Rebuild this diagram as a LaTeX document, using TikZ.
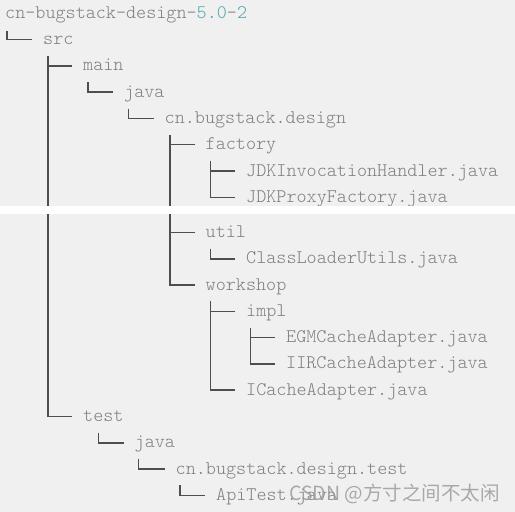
\documentclass[tikz,border=0pt]{standalone}
\usepackage{fontspec}
\usepackage{xcolor}
\usepackage{tikz}
\usetikzlibrary{positioning, calc}
\newfontfamily\treefont{Latin Modern Mono Light}
\newfontfamily\cjkfont{Noto Sans CJK SC}
\definecolor{pagegray}{HTML}{F0F0F0}
\definecolor{textgray}{HTML}{7E7E7E}
\definecolor{linegray}{HTML}{4E4E4E}
\definecolor{numteal}{HTML}{4FA8AC}
\definecolor{markgray}{HTML}{9C9C9C}

\begin{document}
\begin{tikzpicture}[
  x=1pt, y=-1pt,
  file/.style={anchor=base west, inner sep=0pt, text height=10pt,
               text depth=0pt, font=\treefont\fontsize{19.2pt}{20pt}\selectfont,
               text=textgray},
  branch/.style={draw=linegray, line width=1.6pt},
  tee/.style={draw=linegray, line width=1.3pt},
]
  \useasboundingbox (0,0) rectangle (515,512);
  \fill[pagegray] (0,0) rectangle (515,512);

  % tree entries
  \node[file] (root)        at (5,18.3)   {cn-bugstack-design-\textcolor{numteal}{5.0}-\textcolor{numteal}{2}};
  \node[file] (src)         at (43,44.6)  {src};
  \node[file] (main)        at (83,70.9)  {main};
  \node[file] (mainjava)    at (124,97.2) {java};
  \node[file] (designpkg)   at (164.5,123.5) {cn.bugstack.design};
  \node[file] (factory)     at (205.5,149.8) {factory};
  \node[file] (jdkhandler)  at (246,176.1) {JDKInvocationHandler.java};
  \node[file] (jdkproxy)    at (246,202.4) {JDKProxyFactory.java};
  \node[file] (util)        at (205.5,237.4) {util};
  \node[file] (loaderutils) at (246,263.7) {ClassLoaderUtils.java};
  \node[file] (workshop)    at (205.5,290.0) {workshop};
  \node[file] (impl)        at (246,316.3) {impl};
  \node[file] (egm)         at (286,342.6) {EGMCacheAdapter.java};
  \node[file] (iir)         at (286,368.9) {IIRCacheAdapter.java};
  \node[file] (icache)      at (246,395.2) {ICacheAdapter.java};
  \node[file] (test)        at (83,421.5)  {test};
  \node[file] (testjava)    at (134.5,447.8) {java};
  \node[file] (testpkg)     at (175.5,474.1) {cn.bugstack.design.test};
  \node[file] (apitest)     at (216,500.4) {ApiTest.java};

  % connectors
  \draw[branch] ([xshift=-36pt,yshift=9pt]src.west) |- ([xshift=-11pt]src.west);
  \draw[branch] ([xshift=-35pt,yshift=10pt]main.west) |- ([xshift=-11pt]test.west);
  \draw[tee] ([xshift=-35pt]main.west) -- ([xshift=-11pt]main.west);
  \draw[branch] ([xshift=-36pt,yshift=10pt]mainjava.west) |- ([xshift=-11pt]mainjava.west);
  \draw[branch] ([xshift=-36pt,yshift=10pt]designpkg.west) |- ([xshift=-11pt]designpkg.west);
  \draw[branch] ([xshift=-35.5pt,yshift=10pt]factory.west) |- ([xshift=-11pt]workshop.west);
  \draw[tee] ([xshift=-35.5pt]factory.west) -- ([xshift=-11pt]factory.west);
  \draw[tee] ([xshift=-35.5pt]util.west) -- ([xshift=-11pt]util.west);
  \draw[branch] ([xshift=-35.5pt,yshift=10pt]jdkhandler.west) |- ([xshift=-11pt]jdkproxy.west);
  \draw[tee] ([xshift=-35.5pt]jdkhandler.west) -- ([xshift=-11pt]jdkhandler.west);
  \draw[branch] ([xshift=-35.5pt,yshift=10pt]loaderutils.west) |- ([xshift=-11pt]loaderutils.west);
  \draw[branch] ([xshift=-35.5pt,yshift=10pt]impl.west) |- ([xshift=-11pt]icache.west);
  \draw[tee] ([xshift=-35.5pt]impl.west) -- ([xshift=-11pt]impl.west);
  \draw[branch] ([xshift=-35.5pt,yshift=10pt]egm.west) |- ([xshift=-11pt]iir.west);
  \draw[tee] ([xshift=-35.5pt]egm.west) -- ([xshift=-11pt]egm.west);
  \draw[branch] ([xshift=-36pt,yshift=10pt]testjava.west) |- ([xshift=-11pt]testjava.west);
  \draw[branch] ([xshift=-37pt,yshift=10pt]testpkg.west) |- ([xshift=-11pt]testpkg.west);
  \draw[branch] ([xshift=-36pt,yshift=10pt]apitest.west) |- ([xshift=-11pt]apitest.west);

  % seam between the two screenshots
  \fill[white] (0,206) rectangle (515,214);

  % watermark
  \node[anchor=base west, inner sep=0pt, text=markgray, opacity=0.85,
        font=\cjkfont\fontsize{19.5pt}{20pt}\selectfont] (mark) at (289,500.5) {CSDN @方寸之间不太闲};
\end{tikzpicture}
\end{document}
